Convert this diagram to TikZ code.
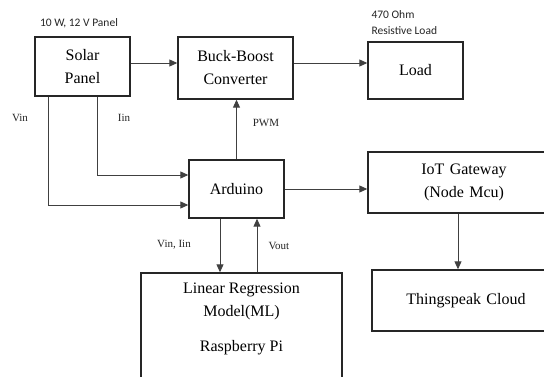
\documentclass[tikz,border=0pt]{standalone}
\usepackage{fontspec}
\setmainfont{Liberation Serif}
\newfontfamily\boxfont{Liberation Serif}
\newfontfamily\notefont{Carlito}
\usetikzlibrary{arrows.meta}

\tikzset{
  box/.style={draw=black!85, line width=1.4pt, font=\boxfont\fontsize{16}{23}\selectfont, align=center, inner sep=0pt},
  arr/.style={draw=black!75, line width=0.9pt, -{Triangle[length=8pt,width=7pt]}},
  lbl/.style={font=\boxfont\fontsize{11}{13}\selectfont, text=black!85},
  note/.style={font=\notefont\fontsize{11.5}{16}\selectfont, text=black!85, align=left}
}

\begin{document}
\begin{tikzpicture}[x=1pt, y=-1pt]
            \useasboundingbox (0, 0) rectangle (544, 377);
            \clip (0, 0) rectangle (544, 377);
            \fill[white] (0, 0) rectangle (544, 377);

            % blocks
            \node[box, minimum width=95, minimum height=59] (solar) at (82.5, 66.5) {Solar\\Panel};
            \node[box, minimum width=115, minimum height=62] (buck) at (235.5, 68) {Buck-Boost\\Converter};
            \node[box, minimum width=95, minimum height=57] (load) at (415.5, 70.5) {Load};
            \node[box, minimum width=95, minimum height=58] (arduino) at (236.5, 189) {Arduino};
            \node[box, minimum width=192, minimum height=61, text width=170] (iot) at (464, 182.5) {IoT Gateway\\(Node Mcu)};
            \node[box, minimum width=188, minimum height=61, text width=170] (cloud) at (466, 300.5) {Thingspeak Cloud};
            \node[box, minimum width=201, minimum height=127] (ml) at (241.5, 336.5) {};
            \node[box, draw=none, fill=none] (mltext) at (241.5, 319) {Linear Regression\\Model(ML)\\[12pt]Raspberry Pi};

            % notes
            \node[note] (panelnote) at (79, 23) {10 W, 12 V Panel};
            \node[note, anchor=west] (loadnote) at (368, 23) {470 Ohm\\Resistive Load};

            % power path
            \draw[arr] ([yshift=3.5]solar.east) -- ([yshift=3.5]solar.east -| buck.west);
            \draw[arr] ([yshift=5]buck.east) -- ([yshift=5]buck.east -| load.west);

            % sensing
            \draw[arr] ([xshift=-34.5]solar.south) |- ([yshift=-16]arduino.west);
            \draw[arr] ([xshift=14.5]solar.south) |- ([yshift=14]arduino.west);
            \draw[arr] (arduino.north) -- (arduino.north |- buck.south);
            \draw[arr] (arduino.east) -- (arduino.east -| iot.west);
            \draw[arr] ([xshift=-6]iot.south) -- ([xshift=-6]iot.south |- cloud.north);
            \draw[arr] ([xshift=-16.5]arduino.south) -- ([xshift=-16.5]arduino.south |- ml.north);
            \draw[arr] ([xshift=20.5]arduino.south |- ml.north) -- ([xshift=20.5]arduino.south);

            % signal labels
            \node[lbl] (vinlbl) at (20, 118) {Vin};
            \node[lbl] (iinlbl) at (124, 118) {Iin};
            \node[lbl] (pwmlbl) at (266, 123) {PWM};
            \node[lbl] (vinilbl) at (174, 245) {Vin, Iin};
            \node[lbl] (voutlbl) at (279, 246) {Vout};
        \end{tikzpicture}
\end{document}
